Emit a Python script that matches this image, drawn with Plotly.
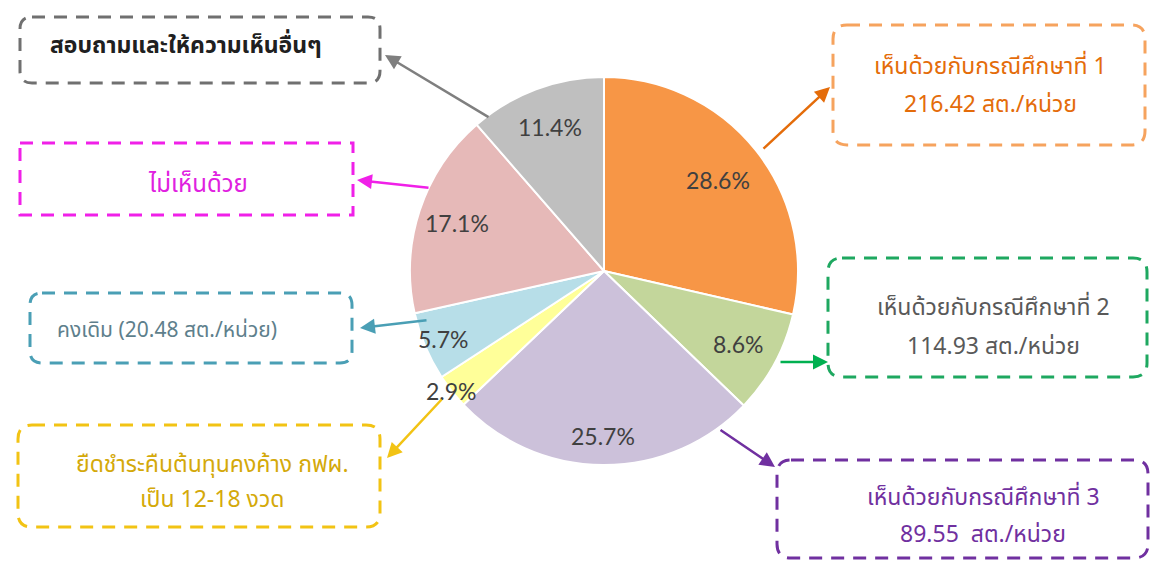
import math
import plotly.graph_objects as go

# ---- data ----
categories = [
    "เห็นด้วยกับกรณีศึกษาที่ 1",
    "เห็นด้วยกับกรณีศึกษาที่ 2",
    "เห็นด้วยกับกรณีศึกษาที่ 3",
    "ยืดชำระคืนต้นทุนคงค้าง กฟผ.",
    "คงเดิม",
    "ไม่เห็นด้วย",
    "สอบถามและให้ความเห็นอื่นๆ",
]
percent_values = [28.6, 8.6, 25.7, 2.9, 5.7, 17.1, 11.4]
slice_colors = ["#F79646", "#C3D69B", "#CCC1DA", "#FFFF99", "#B7DEE8", "#E6B9B8", "#BFBFBF"]

box_lines = [
    ["เห็นด้วยกับกรณีศึกษาที่ 1", "216.42 สต./หน่วย"],
    ["เห็นด้วยกับกรณีศึกษาที่ 2", "114.93 สต./หน่วย"],
    ["เห็นด้วยกับกรณีศึกษาที่ 3", "89.55  สต./หน่วย"],
    ["ยืดชำระคืนต้นทุนคงค้าง กฟผ.", "เป็น 12-18 งวด"],
    ["คงเดิม (20.48 สต./หน่วย)"],
    ["ไม่เห็นด้วย"],
    ["สอบถามและให้ความเห็นอื่นๆ"],
]

W, H = 1150, 562
THAI = "Tahoma, 'Noto Sans Thai', 'DejaVu Sans', sans-serif"

fig = go.Figure()

cx, cy, R = 604, 271, 194
fig.add_trace(go.Pie(
    labels=categories,
    values=percent_values,
    sort=False,
    direction="clockwise",
    rotation=0,
    marker=dict(colors=slice_colors, line=dict(color="white", width=2)),
    textinfo="none",
    domain=dict(x=[(cx - R) / W, (cx + R) / W], y=[1 - (cy + R) / H, 1 - (cy - R) / H]),
    showlegend=False,
    hoverinfo="label+percent",
))

# percentage labels placed on each slice's bisector (radius as fraction of pie radius)
label_radius = [0.75, 0.79, 0.85, 1.0, 0.90, 0.80, 0.79]
total = sum(percent_values)
cum = 0.0
for v, f in zip(percent_values, label_radius):
    mid = (cum + v / 2) / total * 2 * math.pi
    cum += v
    fig.add_annotation(x=cx + f * R * math.sin(mid), y=cy - f * R * math.cos(mid),
                       xref="x", yref="y", text=f"{v:.1f}%", showarrow=False,
                       font=dict(family="Lato, 'Open Sans', sans-serif", size=23, color="#404040"))

def rrect(x0, y0, x1, y1, r):
    return (f"M {x0+r},{y0} L {x1-r},{y0} Q {x1},{y0} {x1},{y0+r} "
            f"L {x1},{y1-r} Q {x1},{y1} {x1-r},{y1} L {x0+r},{y1} "
            f"Q {x0},{y1} {x0},{y1-r} L {x0},{y0+r} Q {x0},{y0} {x0+r},{y0} Z")

# box geometry (pixels): x0, y0, x1, y1, radius, border color, text color, text cx, line y's, font size, bold
boxes = [
    (833, 25, 1145, 145, 14, "#F6A35E", "#E46C0A", 990, [67, 105], 23, False),
    (828, 258, 1147, 377, 14, "#1EA860", "#595959", 993, [308, 347], 23, False),
    (777, 460, 1148, 558, 14, "#7030A0", "#7030A0", 983, [498, 535], 23, False),
    (18, 425, 380, 527, 14, "#F2C314", "#D4A90A", 212, [465, 500], 23, False),
    (30, 293, 352, 363, 12, "#4A9FB5", "#5E7F8C", 167, [330], 21, False),
    (20, 143, 353, 215, 0, "#F020E8", "#E020E0", 198, [185], 24, False),
    (20, 17, 380, 83, 12, "#707070", "#202020", 186, [46], 23, True),
]

for i, (x0, y0, x1, y1, r, bc, tc, tx, ys, fs, bold) in enumerate(boxes):
    fig.add_shape(type="path", path=rrect(x0, y0, x1, y1, r), xref="x", yref="y",
                  line=dict(color=bc, width=3, dash="13px,9px"), fillcolor="rgba(0,0,0,0)")
    for line, ly in zip(box_lines[i], ys):
        txt = f"<b>{line}</b>" if bold else line
        fig.add_annotation(x=tx, y=ly, xref="x", yref="y", text=txt, showarrow=False,
                           font=dict(family=THAI, size=fs, color=tc))

# arrows: (tail x, tail y, head x, head y, color)
arrows = [
    (762, 150, 830, 87, "#E46C0A"),
    (779, 362, 828, 362, "#00B050"),
    (719, 429, 775, 467, "#7030A0"),
    (443, 398, 387, 458, "#F2C314"),
    (428, 320, 360, 328, "#4A9FB5"),
    (430, 188, 357, 180, "#F020E8"),
    (490, 118, 385, 55, "#7F7F7F"),
]
for (x0, y0, x1, y1, c) in arrows:
    fig.add_annotation(x=x1, y=y1, ax=x0, ay=y0, xref="x", yref="y", axref="x", ayref="y",
                       showarrow=True, arrowhead=2, arrowsize=1.2, arrowwidth=2.5,
                       arrowcolor=c, text="")

fig.update_layout(
    width=W, height=H,
    margin=dict(l=0, r=0, t=0, b=0),
    paper_bgcolor="white", plot_bgcolor="rgba(0,0,0,0)",
    xaxis=dict(range=[0, W], visible=False, fixedrange=True),
    yaxis=dict(range=[H, 0], visible=False, fixedrange=True),
)

fig.write_html("out.html", config={"displayModeBar": False},
               post_script="document.body.style.margin='0';document.body.style.overflow='hidden';")
